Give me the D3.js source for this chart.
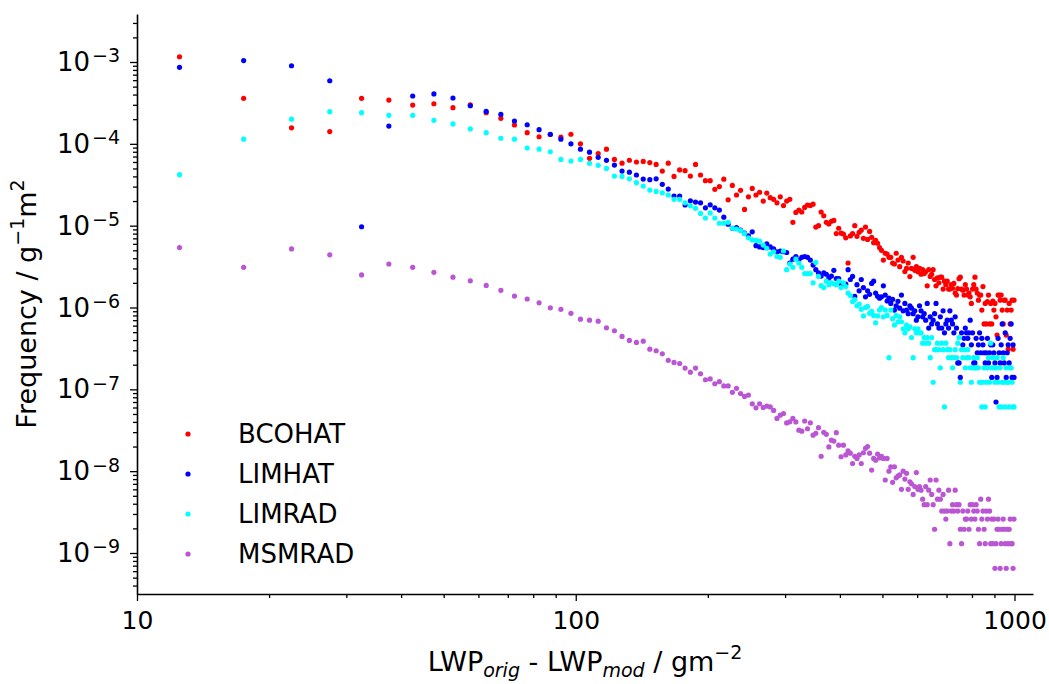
<!DOCTYPE html>
<html>
<head>
<meta charset="utf-8">
<script src="https://cdn.jsdelivr.net/npm/d3@7"></script>
<style>
  body { margin: 0; background: #fff; }
  svg text { font-family: "DejaVu Sans", sans-serif; fill: #000; }
</style>
</head>
<body>
<svg id="chart" width="1049" height="684"></svg>
<script>
// bin centres of the LWP difference histogram (5 g m-2 bins from 10 to 1000)
const binCentres = d3.range(12.5, 1000, 5);

// frequencies, one value per bin
const bcohat = [
  1.16e-3, 3.6e-4, 1.57e-4, 1.41e-4, 3.6e-4, 3.43e-4, 2.98e-4, 3.09e-4, 2.77e-4, 3.0e-4,
  2.4e-4, 2.05e-4, 1.7e-4, 1.37e-4, 1.22e-4, 1.3e-4, 1.21e-4, 1.31e-4, 1.0e-4, 6.65e-5,
  7.6e-5, 8.6e-5, 6.45e-5, 5.8e-5, 6.3e-5, 6.0e-5, 6.1e-5, 5.9e-5, 5.6e-5, 4.65e-5,
  5.8e-5, 4.0e-5, 4.8e-5, 4.7e-5, 4.04e-5, 5.6e-5, 4.16e-5, 3.55e-5, 3.55e-5, 2.78e-5,
  3.0e-5, 3.7e-5, 2.07e-5, 3.1e-5, 2.37e-5, 2.7e-5, 1.58e-5, 2.25e-5, 2.85e-5, 2.37e-5,
  2.56e-5, 2.0e-5, 2.5e-5, 2.2e-5, 2.1e-5, 1.9e-5, 2.25e-5, 1.76e-5, 2.0e-5, 2.1e-5,
  1.1e-5, 1.45e-5, 1.55e-5, 1.47e-5, 1.67e-5, 1.79e-5, 1.76e-5, 1.83e-5, 9.6e-6, 1.0e-5,
  1.47e-5, 1.32e-5, 1.1e-5, 1.05e-5, 1.13e-5, 1.16e-5, 8.0e-6, 9.3e-6, 8.1e-6, 7.9e-6,
  7.1e-6, 3.5e-6, 7.5e-6, 8.0e-6, 1.0e-5, 7.4e-6, 8.3e-6, 8.8e-6, 7.0e-6, 9.6e-6,
  6.8e-6, 8.5e-6, 7.2e-6, 6.2e-6, 6.6e-6, 6.1e-6, 5.4e-6, 5.0e-6, 3.8e-6, 4.6e-6,
  4.5e-6, 4.1e-6, 4.1e-6, 3.5e-6, 3.4e-6, 4.6e-6, 3.8e-6, 3.15e-6, 4.1e-6, 3.7e-6,
  2.75e-6, 3.0e-6, 3.5e-6, 2.39e-6, 3.0e-6, 4.1e-6, 2.85e-6, 3.15e-6, 2.73e-6, 3.0e-6,
  2.55e-6, 2.9e-6, 2.6e-6, 2.73e-6, 1.84e-6, 2.9e-6, 2.4e-6, 2.55e-6, 2.9e-6, 2.2e-6,
  1.84e-6, 2.3e-6, 2.0e-6, 2.35e-6, 2.35e-6, 1.68e-6, 2.1e-6, 1.9e-6, 2.1e-6, 1.68e-6,
  1.68e-6, 1.9e-6, 1.72e-6, 1.97e-6, 1.5e-6, 1.42e-6, 1.7e-6, 2.25e-6, 2.35e-6, 1.68e-6,
  1.63e-6, 1.42e-6, 1.9e-6, 1.68e-6, 1.42e-6, 1.5e-6, 1.35e-6, 1.12e-6, 1.68e-6, 1.9e-6,
  2.35e-6, 1.68e-6, 1.5e-6, 1.23e-6, 1.42e-6, 1.42e-6, 9.3e-7, 1.8e-6, 6.3e-7, 1.12e-6,
  6.3e-7, 1.18e-6, 1.42e-6, 6.3e-7, 1.12e-6, 6.3e-7, 1.2e-6, 9.3e-7, 1.12e-6, 7.7e-7,
  4.6e-7, 1.42e-6, 1.42e-6, 1.23e-6, 1.42e-6, 9.3e-7, 6.3e-7, 1.23e-6, 1.23e-6, 4.6e-7,
  9.3e-7, 3.1e-7, 1.12e-6, 6.3e-7, 9.3e-7, 1.23e-6, 3.1e-7, 1.23e-6
];

const limhat = [
  8.6e-4, 1.04e-3, 9.0e-4, 5.9e-4, 9.7e-6, 1.65e-4, 3.84e-4, 4.07e-4, 3.63e-4, 2.92e-4,
  2.49e-4, 2.29e-4, 1.9e-4, 1.71e-4, 1.49e-4, 1.31e-4, 1.14e-4, 1.0e-4, 8.6e-5, 7.9e-5,
  6.84e-5, 6.28e-5, 5.5e-5, 4.65e-5, 4.5e-5, 4.16e-5, 3.71e-5, 3.65e-5, 3.74e-5, 3.2e-5,
  2.8e-5, 2.3e-5, 2.3e-5, 1.79e-5, 2.01e-5, 1.94e-5, 1.9e-5, 1.65e-5, 1.8e-5, 1.65e-5,
  1.55e-5, 1.27e-5, 1.04e-5, 9.3e-6, 9.5e-6, 8.8e-6, 8.1e-6, 7.5e-6, 8.4e-6, 5.7e-6,
  5.5e-6, 5.4e-6, 6.0e-6, 5.5e-6, 5.2e-6, 4.8e-6, 4.9e-6, 4.8e-6, 4.7e-6, 3.5e-6,
  3.9e-6, 4.2e-6, 3.8e-6, 4.1e-6, 4.2e-6, 4.1e-6, 3.8e-6, 3.3e-6, 2.9e-6, 2.66e-6,
  2.42e-6, 2.66e-6, 2.55e-6, 2.3e-6, 2.42e-6, 2.85e-6, 2.26e-6, 2.26e-6, 1.97e-6, 1.95e-6,
  1.93e-6, 2.9e-6, 2.2e-6, 2.4e-6, 1.37e-6, 1.9e-6, 1.6e-6, 2.2e-6, 1.75e-6, 1.35e-6,
  1.6e-6, 1.45e-6, 1.97e-6, 2.1e-6, 1.5e-6, 1.37e-6, 1.3e-6, 1.35e-6, 1.84e-6, 1.42e-6,
  1.2e-6, 1.3e-6, 1.12e-6, 1.26e-6, 9.3e-7, 1.05e-6, 1.19e-6, 9.8e-7, 1.42e-6, 9.1e-7,
  1.12e-6, 9.3e-7, 8.4e-7, 1.05e-6, 9.8e-7, 8.4e-7, 9.1e-7, 7.0e-7, 7.7e-7, 1.05e-6,
  9.1e-7, 7.7e-7, 8.4e-7, 7.0e-7, 1.12e-6, 5.6e-7, 7.7e-7, 6.3e-7, 7.0e-7, 8.4e-7,
  1.12e-6, 6.3e-7, 5.6e-7, 7.7e-7, 5.6e-7, 9.1e-7, 4.9e-7, 6.3e-7, 7.0e-7, 5.6e-7,
  9.1e-7, 7.0e-7, 6.3e-7, 4.9e-7, 7.7e-7, 5.6e-7, 2.1e-7, 2.1e-7, 1.4e-7, 4.9e-7,
  3.5e-7, 4.2e-7, 5.6e-7, 4.9e-7, 4.2e-7, 4.9e-7, 7.0e-7, 3.5e-7, 4.9e-7, 2.1e-7,
  2.1e-7, 4.2e-7, 2.8e-7, 3.5e-7, 4.9e-7, 2.8e-7, 4.2e-7, 3.5e-7, 2.8e-7, 2.1e-7,
  2.8e-7, 4.2e-7, 2.1e-7, 2.8e-7, 3.5e-7, 1.4e-7, 3.5e-7, 2.8e-7, 2.1e-7, 7.0e-8,
  1.4e-7, 4.2e-7, 2.8e-7, 2.1e-7, 3.5e-7, 6.3e-7, 2.8e-7, 2.1e-7, 4.9e-7, 1.4e-7,
  2.8e-7, 3.5e-7, 2.1e-7, 4.2e-7, 6.3e-7, 1.4e-7, 3.5e-7, 1.4e-7
];

const limrad = [
  4.2e-5, 1.14e-4, 2.0e-4, 2.47e-4, 2.4e-4, 2.23e-4, 2.23e-4, 1.94e-4, 1.75e-4, 1.52e-4,
  1.37e-4, 1.17e-4, 1.14e-4, 8.9e-5, 8.6e-5, 8.0e-5, 6.45e-5, 6.16e-5, 6.45e-5, 5.78e-5,
  5.46e-5, 5.0e-5, 4.04e-5, 4.0e-5, 3.74e-5, 3.35e-5, 3.05e-5, 2.72e-5, 2.62e-5, 2.52e-5,
  2.37e-5, 2.1e-5, 2.1e-5, 1.9e-5, 1.75e-5, 1.63e-5, 1.41e-5, 1.24e-5, 1.43e-5, 1.24e-5,
  1.07e-5, 1.07e-5, 1.1e-5, 9.3e-6, 9.1e-6, 8.7e-6, 8.0e-6, 7.1e-6, 6.7e-6, 6.6e-6,
  6.5e-6, 5.8e-6, 5.3e-6, 4.5e-6, 4.8e-6, 4.2e-6, 4.1e-6, 4.9e-6, 2.9e-6, 3.4e-6,
  3.1e-6, 3.9e-6, 3.5e-6, 3.1e-6, 2.6e-6, 2.6e-6, 2.6e-6, 2.0e-6, 3.55e-6, 2.4e-6,
  1.85e-6, 1.75e-6, 2.1e-6, 1.9e-6, 2.0e-6, 1.95e-6, 1.9e-6, 2.1e-6, 1.75e-6, 2.0e-6,
  1.8e-6, 1.5e-6, 1.4e-6, 1.18e-6, 1.25e-6, 1.05e-6, 1.1e-6, 9.5e-7, 7.9e-7, 1.0e-6,
  1.03e-6, 8.5e-7, 9.0e-7, 8.0e-7, 6.5e-7, 7.9e-7, 9.3e-7, 1.0e-6, 7.7e-7, 9.3e-7,
  8.0e-7, 2.44e-7, 9.3e-7, 7.3e-7, 6.1e-7, 8.0e-7, 6.7e-7, 7.7e-7, 6.7e-7, 5.5e-7,
  4.9e-7, 6.1e-7, 5.5e-7, 5.8e-7, 4.3e-7, 2.44e-7, 5.5e-7, 4.9e-7, 5.5e-7, 4.9e-7,
  4.9e-7, 3.66e-7, 4.3e-7, 3.66e-7, 4.3e-7, 3.66e-7, 2.44e-7, 4.3e-7, 1.22e-7, 3.05e-7,
  3.05e-7, 3.66e-7, 3.05e-7, 1.83e-7, 3.66e-7, 3.05e-7, 6.1e-8, 3.66e-7, 3.05e-7, 2.44e-7,
  3.05e-7, 2.44e-7, 1.83e-7, 2.44e-7, 3.05e-7, 2.44e-7, 3.66e-7, 4.3e-7, 1.22e-7, 3.05e-7,
  2.44e-7, 3.05e-7, 1.83e-7, 2.44e-7, 3.05e-7, 2.44e-7, 1.83e-7, 1.22e-7, 1.83e-7, 2.44e-7,
  1.83e-7, 1.83e-7, 2.44e-7, 1.83e-7, 1.22e-7, 1.22e-7, 6.1e-8, 1.22e-7, 1.83e-7, 6.1e-8,
  1.22e-7, 1.83e-7, 2.44e-7, 1.22e-7, 3.66e-7, 1.83e-7, 2.44e-7, 1.83e-7, 1.22e-7, 1.83e-7,
  2.44e-7, 1.22e-7, 6.1e-8, 1.83e-7, 6.1e-8, 1.22e-7, 2.44e-7, 1.22e-7, 6.1e-8, 1.83e-7,
  1.22e-7, 1.22e-7, 6.1e-8, 1.83e-7, 1.83e-7, 1.22e-7, 6.1e-8, 6.1e-8
];

const msmrad = [
  5.4e-6, 3.1e-6, 5.2e-6, 4.4e-6, 2.5e-6, 3.4e-6, 3.1e-6, 2.69e-6, 2.35e-6, 2.12e-6,
  1.86e-6, 1.62e-6, 1.38e-6, 1.27e-6, 1.14e-6, 9.9e-7, 9.5e-7, 8.5e-7, 7.2e-7, 7.0e-7,
  6.8e-7, 5.65e-7, 5.2e-7, 4.43e-7, 3.96e-7, 3.74e-7, 3.88e-7, 3.1e-7, 2.96e-7, 2.72e-7,
  2.26e-7, 2.13e-7, 2.07e-7, 1.82e-7, 1.62e-7, 1.82e-7, 1.55e-7, 1.31e-7, 1.34e-7, 1.17e-7,
  1.24e-7, 1.1e-7, 1.1e-7, 9.2e-8, 1.03e-7, 8.9e-8, 8.2e-8, 8.5e-8, 6.65e-8, 5.94e-8,
  6.65e-8, 6.0e-8, 6.24e-8, 6.1e-8, 5.52e-8, 4.41e-8, 4.84e-8, 5.07e-8, 3.89e-8, 4.01e-8,
  4.41e-8, 4.0e-8, 3.17e-8, 3.08e-8, 4.1e-8, 3.3e-8, 3.9e-8, 2.75e-8, 2.9e-8, 3.4e-8,
  1.52e-8, 2.98e-8, 2.82e-8, 1.98e-8, 2.39e-8, 2.33e-8, 2.95e-8, 2.08e-8, 1.5e-8, 2.08e-8,
  1.58e-8, 1.77e-8, 1.66e-8, 1.24e-8, 1.52e-8, 1.43e-8, 1.58e-8, 1.24e-8, 1.68e-8, 1.9e-8,
  2.0e-8, 1.66e-8, 1.03e-8, 1.43e-8, 1.36e-8, 1.62e-8, 1.45e-8, 1.52e-8, 1.43e-8, 7.8e-9,
  1.43e-8, 1.0e-8, 1.13e-8, 7.3e-9, 1.13e-8, 8.3e-9, 8.7e-9, 9.0e-9, 6.0e-9, 1.0e-8,
  8.0e-9, 9.4e-9, 6.0e-9, 7.4e-9, 7.0e-9, 5.2e-9, 6.5e-9, 9.6e-9, 6.0e-9, 6.5e-9,
  5.85e-9, 4.55e-9, 3.9e-9, 6.5e-9, 3.9e-9, 5.85e-9, 7.8e-9, 5.2e-9, 3.9e-9, 1.95e-9,
  7.8e-9, 4.55e-9, 5.85e-9, 4.55e-9, 3.25e-9, 5.2e-9, 3.25e-9, 2.6e-9, 3.25e-9, 5.85e-9,
  1.3e-9, 3.25e-9, 3.9e-9, 3.25e-9, 5.85e-9, 3.9e-9, 3.25e-9, 3.9e-9, 1.95e-9, 1.3e-9,
  3.25e-9, 1.95e-9, 2.6e-9, 2.6e-9, 3.25e-9, 1.95e-9, 3.9e-9, 2.6e-9, 3.9e-9, 3.25e-9,
  2.6e-9, 3.9e-9, 3.25e-9, 1.95e-9, 1.3e-9, 4.55e-9, 2.6e-9, 3.25e-9, 1.95e-9, 1.3e-9,
  3.25e-9, 2.6e-9, 4.55e-9, 3.25e-9, 1.3e-9, 2.6e-9, 1.3e-9, 2.6e-9, 6.5e-10, 1.3e-9,
  1.95e-9, 2.6e-9, 1.95e-9, 6.5e-10, 1.3e-9, 1.95e-9, 2.6e-9, 1.95e-9, 1.3e-9, 6.5e-10,
  1.95e-9, 1.3e-9, 1.95e-9, 2.6e-9, 1.3e-9, 1.3e-9, 6.5e-10, 2.6e-9
];

const seriesNames = ['BCOHAT', 'LIMHAT', 'LIMRAD', 'MSMRAD'];
const seriesColours = ['#ff0000', '#0000ff', '#00ffff', '#ba55d3'];
const seriesValues = [bcohat, limhat, limrad, msmrad];

const xMajorTicks = [10, 100, 1000];
const yMajorExponents = [-9, -8, -7, -6, -5, -4, -3];

const plotLeft = 137, plotRight = 1033, plotTop = 14, plotBottom = 594;

const x = d3.scaleLog().domain([10, 1102]).range([plotLeft, plotRight]);
const y = d3.scaleLog().domain([3.155e-10, 3.86e-3]).range([plotBottom, plotTop]);

const svg = d3.select('#chart');

// minor ticks: 2..9 times each decade inside the domain
function minorTicks(scale) {
    const [lo, hi] = scale.domain();
    const out = [];
    for (let e = Math.floor(Math.log10(lo)); e <= Math.ceil(Math.log10(hi)); e++) {
        for (let m = 2; m <= 9; m++) {
            const v = m * Math.pow(10, e);
            if (v >= lo && v <= hi) out.push(v);
        }
    }
    return out;
}

// points, first series underneath
seriesValues.forEach((vals, s) => {
    const pts = binCentres
        .map((c, i) => ({ c: c, v: vals[i] }))
        .filter((d) => d.v != null && d.v > 0);
    svg.append('g')
        .attr('fill', seriesColours[s])
        .selectAll('circle')
        .data(pts)
        .enter()
        .append('circle')
        .attr('cx', (d) => x(d.c))
        .attr('cy', (d) => y(d.v))
        .attr('r', 2.6);
});

// x axis
const xAxisG = svg.append('g').attr('transform', `translate(0,${plotBottom})`);
xAxisG.append('g')
    .call(d3.axisBottom(x).tickValues(minorTicks(x)).tickSize(4).tickSizeOuter(0).tickFormat(''))
    .call((g) => g.select('.domain').remove());
xAxisG.append('g')
    .call(d3.axisBottom(x).tickValues(xMajorTicks).tickSize(7).tickSizeOuter(0).tickPadding(10).tickFormat(d3.format('d')));

// y axis
const yAxisG = svg.append('g').attr('transform', `translate(${plotLeft},0)`);
yAxisG.append('g')
    .call(d3.axisLeft(y).tickValues(minorTicks(y)).tickSize(4).tickSizeOuter(0).tickFormat(''))
    .call((g) => g.select('.domain').remove());
yAxisG.append('g')
    .call(d3.axisLeft(y).tickValues(yMajorExponents.map((e) => Math.pow(10, e))).tickSize(7).tickSizeOuter(0).tickFormat(''));

svg.selectAll('.tick line').attr('stroke', '#000').attr('stroke-width', 1.3);
svg.selectAll('.domain').attr('stroke', '#000').attr('stroke-width', 1.6);
xAxisG.selectAll('.tick text')
    .attr('fill', '#000')
    .style('font-family', '"DejaVu Sans", sans-serif')
    .style('font-size', '25px');

// y tick labels as 10 with a superscript exponent
const yLab = svg.append('g').selectAll('text')
    .data(yMajorExponents)
    .enter()
    .append('text')
    .attr('x', 120)
    .attr('y', (e) => y(Math.pow(10, e)) + 9)
    .attr('text-anchor', 'end')
    .style('font-size', '26px');
yLab.append('tspan').text('10');
yLab.append('tspan')
    .attr('dx', 2)
    .attr('dy', '-0.45em')
    .style('font-size', '19px')
    .text((e) => '\u2212' + Math.abs(e));

// axis titles
const xTitle = svg.append('text')
    .attr('x', (plotLeft + plotRight) / 2)
    .attr('y', 671)
    .attr('text-anchor', 'middle')
    .style('font-size', '27px');
xTitle.append('tspan').text('LWP');
xTitle.append('tspan').attr('dy', 6).style('font-size', '19px').style('font-style', 'italic').text('orig');
xTitle.append('tspan').attr('dy', -6).text(' - LWP');
xTitle.append('tspan').attr('dy', 6).style('font-size', '19px').style('font-style', 'italic').text('mod');
xTitle.append('tspan').attr('dy', -6).text(' / gm');
xTitle.append('tspan').attr('dy', -12).style('font-size', '19px').text('\u22122');

const yTitle = svg.append('text')
    .attr('transform', `translate(36,${(plotTop + plotBottom) / 2}) rotate(-90)`)
    .attr('text-anchor', 'middle')
    .style('font-size', '27px');
yTitle.append('tspan').text('Frequency / g');
yTitle.append('tspan').attr('dy', -12).style('font-size', '19px').text('\u22121');
yTitle.append('tspan').attr('dy', 12).text('m');
yTitle.append('tspan').attr('dy', -12).style('font-size', '19px').text('2');

// legend
const legend = svg.append('g')
    .selectAll('g')
    .data(seriesNames)
    .enter()
    .append('g')
    .attr('transform', (d, i) => `translate(188,${434 + i * 40})`);
legend.append('circle')
    .attr('r', 2.6)
    .attr('fill', (d, i) => seriesColours[i]);
legend.append('text')
    .attr('x', 50)
    .attr('dy', '0.36em')
    .style('font-size', '26px')
    .text((d) => d);
</script>
</body>
</html>
